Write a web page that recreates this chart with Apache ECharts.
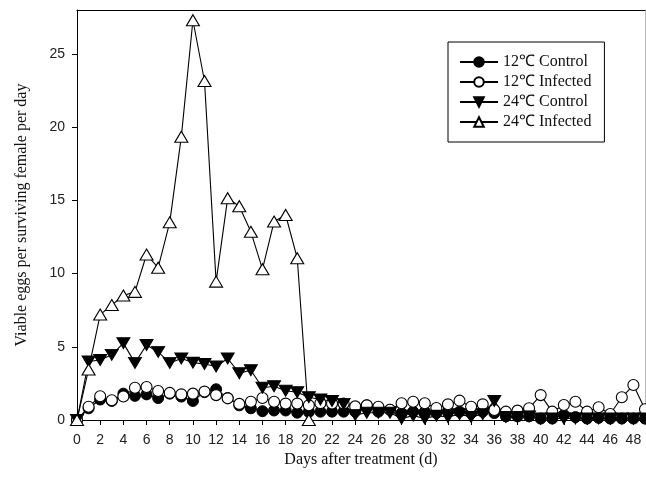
<!DOCTYPE html>
<html><head><meta charset="utf-8">
<script src="https://cdn.jsdelivr.net/npm/echarts@6/dist/echarts.min.js"></script>
<style>html,body{margin:0;padding:0;background:#fff;}#c{width:646px;height:487px;}</style>
</head><body><div id="c"></div>
<script>
const days = Array.from({length: 50}, (_, i) => i);
const xTicks = [0,2,4,6,8,10,12,14,16,18,20,22,24,26,28,30,32,34,36,38,40,42,44,46,48];
const yTicks = [0,5,10,15,20,25];
const seriesNames = ['12\u2103 Control', '12\u2103 Infected', '24\u2103 Control', '24\u2103 Infected'];
const control12 = [0,0.8,1.4,1.3,1.8,1.65,1.75,1.5,1.8,1.6,1.3,1.9,2.1,1.5,1.0,0.8,0.6,0.65,0.65,0.5,0.55,0.57,0.57,0.57,0.57,1.0,0.57,0.7,0.47,0.57,0.57,0.47,0.57,0.57,0.47,0.57,0.47,0.25,0.25,0.25,0.1,0.1,0.35,0.2,0.1,0.15,0.1,0.1,0.1,0.1];
const infected12 = [0,0.9,1.62,1.35,1.6,2.2,2.25,1.98,1.85,1.75,1.8,1.94,1.7,1.48,1.1,1.25,1.5,1.25,1.12,1.12,1.0,1.15,1.12,1.12,0.93,1.0,0.9,0.7,1.14,1.25,1.14,0.82,1.07,1.32,0.91,1.07,0.68,0.57,0.64,0.8,1.7,0.57,1.02,1.25,0.57,0.87,0.41,1.55,2.39,0.73];
const control24 = [0,4.0,4.1,4.45,5.25,3.9,5.12,4.65,3.9,4.2,3.92,3.82,3.65,4.2,3.2,3.4,2.2,2.3,2.0,1.9,1.55,1.4,1.3,1.1,0.35,0.5,0.5,0.5,0.1,0.3,0.1,0.3,0.2,0.4,0.2,0.4,1.3,0.2,0.2,0.25,0.1,0.1,0.1,0.1,0.1,0.1,0.1,0.1,0.1,0.1];
const infected24 = [0,3.45,7.2,7.85,8.5,8.75,11.3,10.4,13.5,19.35,27.3,23.15,9.45,15.15,14.6,12.85,10.3,13.55,14.0,11.05,0];

function pairs(vals){ return vals.map((v,i)=>[days[i], v]); }

const chart = echarts.init(document.getElementById('c'), null, {renderer:'canvas'});
const serif = 'Liberation Serif';
const sans = 'Liberation Sans';
const base = {type:'line', lineStyle:{color:'#000', width:1.1}, animation:false, showAllSymbol:true};
const hiddenAxis = {axisTick:{show:false}, axisLabel:{show:false}, splitLine:{show:false}};
chart.setOption({
  backgroundColor:'#fff',
  animation:false,
  grid:{left:77, top:10, right:1, bottom:67, show:false},
  legend:{
    orient:'vertical', left:448, top:42, width:158,
    backgroundColor:'#fff', borderColor:'#000', borderWidth:1,
    padding:[12,13,12,11], itemGap:4, itemWidth:38, itemHeight:12,
    textStyle:{fontFamily:serif, fontSize:16, color:'#111', lineHeight:16},
    data: seriesNames
  },
  xAxis:[{
    type:'value', min:0, max:49,
    name:'Days after treatment (d)', nameLocation:'middle', nameGap:22,
    nameTextStyle:{fontFamily:serif, fontSize:16, color:'#111'},
    axisLine:{show:true, lineStyle:{color:'#000'}},
    axisTick:{show:true, inside:false, length:5, lineStyle:{color:'#000'}, customValues:xTicks},
    axisLabel:{fontFamily:sans, fontSize:14, color:'#222', margin:13, customValues:xTicks},
    splitLine:{show:false}
  },Object.assign({type:'value', min:0, max:49, position:'top',
    axisLine:{show:true, onZero:false, lineStyle:{color:'#000'}}}, hiddenAxis)],
  yAxis:[{
    type:'value', min:0, max:28,
    name:'Viable eggs per surviving female per day', nameLocation:'middle', nameGap:47,
    nameTextStyle:{fontFamily:serif, fontSize:16, color:'#111'},
    axisLine:{show:true, lineStyle:{color:'#000'}},
    axisTick:{show:true, inside:false, length:5, lineStyle:{color:'#000'}, customValues:yTicks},
    axisLabel:{fontFamily:sans, fontSize:14, color:'#222', margin:12, customValues:yTicks},
    splitLine:{show:false}
  },Object.assign({type:'value', min:0, max:28, position:'right',
    axisLine:{show:true, onZero:false, lineStyle:{color:'#bbb'}}}, hiddenAxis)],
  series:[
    Object.assign({}, base, {name:seriesNames[0], data:pairs(control12), symbol:'circle', symbolSize:11,
      itemStyle:{color:'#000', borderColor:'#000', borderWidth:1}}),
    Object.assign({}, base, {name:seriesNames[1], data:pairs(infected12), symbol:'circle', symbolSize:11,
      itemStyle:{color:'#fff', borderColor:'#000', borderWidth:1.1}}),
    Object.assign({}, base, {name:seriesNames[2], data:pairs(control24), symbol:'triangle', symbolRotate:180, symbolSize:[13,11],
      itemStyle:{color:'#000', borderColor:'#000', borderWidth:1}}),
    Object.assign({}, base, {name:seriesNames[3], data:pairs(infected24), symbol:'triangle', symbolSize:[13,11],
      itemStyle:{color:'#fff', borderColor:'#000', borderWidth:1.1}})
  ]
});
</script>
</body></html>
